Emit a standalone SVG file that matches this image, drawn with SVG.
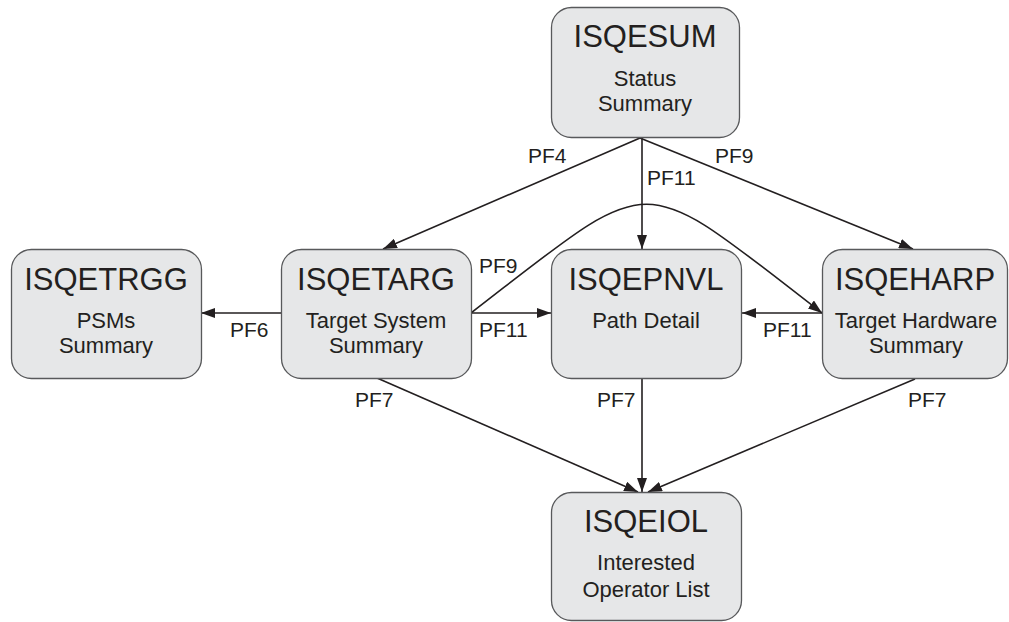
<svg xmlns="http://www.w3.org/2000/svg" width="1009" height="622" viewBox="0 0 1009 622">
<style>
.box{fill:#e6e7e8;stroke:#58595b;stroke-width:1.3}
.t{font-family:"Liberation Sans",Arial,sans-serif;fill:#231f20;text-anchor:middle}
.title{font-size:31px}
.sub{font-size:22px}
.lbl{font-family:"Liberation Sans",Arial,sans-serif;fill:#231f20;font-size:21px}
.c{fill:none;stroke:#231f20;stroke-width:1.6}
</style>
<defs>
<marker id="ah" viewBox="0 0 14 10" refX="14" refY="5" markerWidth="14" markerHeight="10" markerUnits="userSpaceOnUse" orient="auto">
<path d="M0,0 L14,5 L0,10 Z" fill="#231f20"/>
</marker>
</defs>
<rect width="1009" height="622" fill="#ffffff"/>
<g id="connectors">
<path class="c" d="M640,138 L383,249" marker-end="url(#ah)"/>
<path class="c" d="M642,138 L642,249" marker-end="url(#ah)"/>
<path class="c" d="M640,138 L913,249" marker-end="url(#ah)"/>
<path class="c" d="M471,313 C659,168 634,168 822,313" marker-end="url(#ah)"/>
<path class="c" d="M471,313 L551,313" marker-end="url(#ah)"/>
<path class="c" d="M822,313 L742,313" marker-end="url(#ah)"/>
<path class="c" d="M281,313 L201,313" marker-end="url(#ah)"/>
<path class="c" d="M377,378 L638,492" marker-end="url(#ah)"/>
<path class="c" d="M642,378 L642,492" marker-end="url(#ah)"/>
<path class="c" d="M915,379 L648,492" marker-end="url(#ah)"/>
<text class="lbl" x="528" y="163">PF4</text>
<text class="lbl" x="647" y="185">PF11</text>
<text class="lbl" x="715" y="163">PF9</text>
<text class="lbl" x="479" y="273">PF9</text>
<text class="lbl" x="479" y="337">PF11</text>
<text class="lbl" x="763" y="337">PF11</text>
<text class="lbl" x="230" y="337">PF6</text>
<text class="lbl" x="355" y="407">PF7</text>
<text class="lbl" x="597" y="407">PF7</text>
<text class="lbl" x="908" y="407">PF7</text>
</g>
<g id="ISQESUM">
<rect class="box" x="551.5" y="7.5" width="188" height="130" rx="20"/>
<text class="t title" x="645" y="47">ISQESUM</text>
<text class="t sub" x="645" y="86">Status</text>
<text class="t sub" x="645" y="111">Summary</text>
</g>
<g id="ISQETRGG">
<rect class="box" x="11.5" y="249.5" width="190" height="129" rx="20"/>
<text class="t title" x="106" y="290">ISQETRGG</text>
<text class="t sub" x="106" y="328">PSMs</text>
<text class="t sub" x="106" y="353">Summary</text>
</g>
<g id="ISQETARG">
<rect class="box" x="281.5" y="249.5" width="190" height="129" rx="20"/>
<text class="t title" x="376" y="290">ISQETARG</text>
<text class="t sub" x="376" y="328">Target System</text>
<text class="t sub" x="376" y="353">Summary</text>
</g>
<g id="ISQEPNVL">
<rect class="box" x="551.5" y="249.5" width="190" height="129" rx="20"/>
<text class="t title" x="646" y="290">ISQEPNVL</text>
<text class="t sub" x="646" y="328">Path Detail</text>
</g>
<g id="ISQEHARP">
<rect class="box" x="822.5" y="249.5" width="185" height="129" rx="20"/>
<text class="t title" x="915" y="290">ISQEHARP</text>
<text class="t sub" x="916" y="328">Target Hardware</text>
<text class="t sub" x="916" y="353">Summary</text>
</g>
<g id="ISQEIOL">
<rect class="box" x="551.5" y="492.5" width="190" height="128" rx="20"/>
<text class="t title" x="646" y="532">ISQEIOL</text>
<text class="t sub" x="646" y="570">Interested</text>
<text class="t sub" x="646" y="597">Operator List</text>
</g>
</svg>
